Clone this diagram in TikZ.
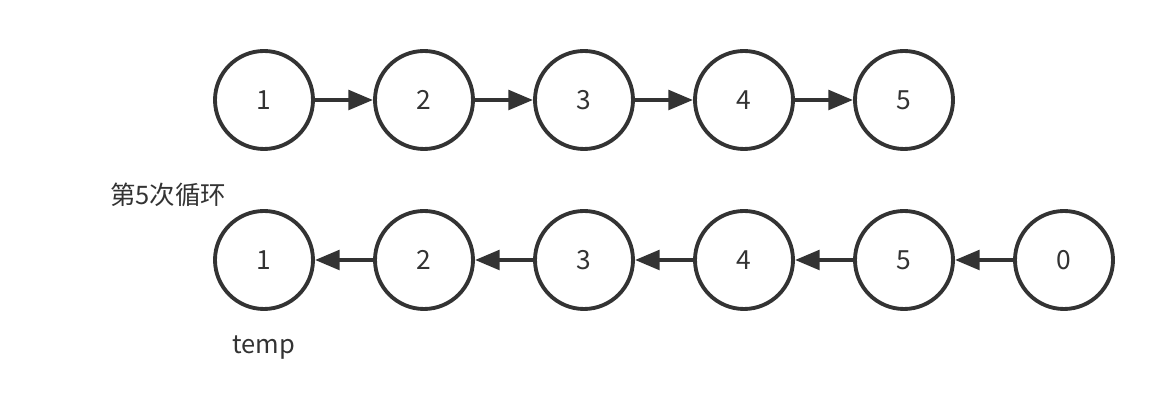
\documentclass[tikz,border=0pt]{standalone}
\usepackage{fontspec}
\setmainfont{Noto Sans CJK SC}
\definecolor{LinkGrey}{HTML}{333333}
\usetikzlibrary{arrows.meta, positioning}

\begin{document}
\begin{tikzpicture}[>={Triangle[length=14pt, width=11pt]},
  elem/.style={draw=LinkGrey, circle, line width=2.2pt, minimum size=1.96cm,
               inner sep=0pt, font=\fontsize{15}{18}\selectfont, text=LinkGrey},
  link/.style={->, line width=2.4pt, LinkGrey},
  lbl/.style={font=\fontsize{14.5}{17}\selectfont, text=LinkGrey, inner sep=0pt}]
  \useasboundingbox (0, 0) rectangle (23.28, 8.4);
  % list before the loop
  \node[elem] (t1) at (5.28, 6.4) {1};
  \node[elem] (t2) at (8.48, 6.4) {2};
  \node[elem] (t3) at (11.68, 6.4) {3};
  \node[elem] (t4) at (14.88, 6.4) {4};
  \node[elem] (t5) at (18.08, 6.4) {5};
  \draw[link] (t1) -- (t2);
  \draw[link] (t2) -- (t3);
  \draw[link] (t3) -- (t4);
  \draw[link] (t4) -- (t5);
  % after the fifth pass
  \node[lbl, anchor=west] (pass) at (2.2, 4.5) {第5次循环};
  \node[elem] (b1) at (5.28, 3.2) {1};
  \node[elem] (b2) at (8.48, 3.2) {2};
  \node[elem] (b3) at (11.68, 3.2) {3};
  \node[elem] (b4) at (14.88, 3.2) {4};
  \node[elem] (b5) at (18.08, 3.2) {5};
  \node[elem] (b0) at (21.28, 3.2) {0};
  \node[lbl] (temp) at (5.28, 1.45) {temp};
  \draw[link] (b2) -- (b1);
  \draw[link] (b3) -- (b2);
  \draw[link] (b4) -- (b3);
  \draw[link] (b5) -- (b4);
  \draw[link] (b0) -- (b5);
\end{tikzpicture}
\end{document}
